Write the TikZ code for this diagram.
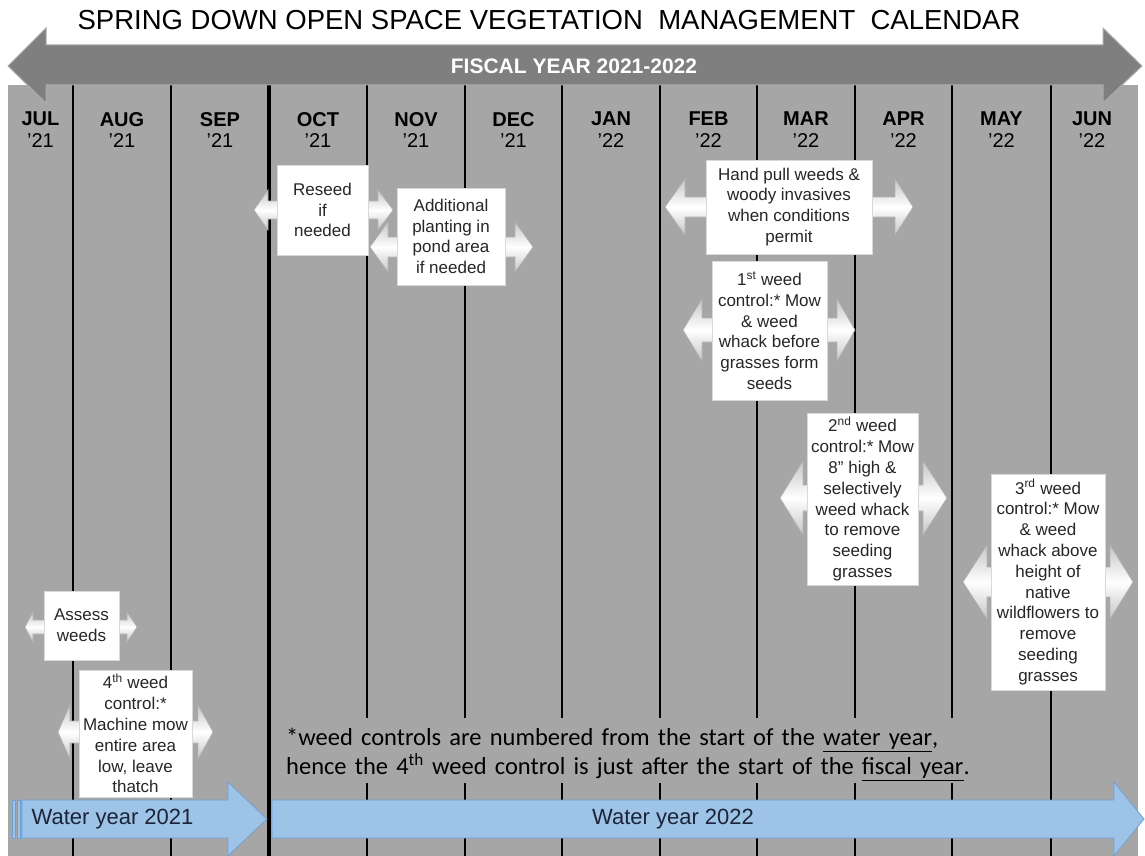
\documentclass[tikz,border=0pt]{standalone}
\usepackage{fontspec}
\setmainfont{Liberation Sans}
\newfontfamily\calibri{Carlito}

\definecolor{panelgray}{HTML}{A6A6A6}
\definecolor{fiscalgray}{HTML}{7F7F7F}
\definecolor{textgray}{HTML}{262626}
\definecolor{waterblue}{HTML}{9DC3E6}
\definecolor{waterline}{HTML}{6F9FD8}
\definecolor{watertext}{HTML}{1C2439}

\begin{document}
\begin{tikzpicture}[
        x=1pt, y=-1pt,
        every node/.style={text=textgray},
        month/.style={anchor=north, inner sep=0pt, align=center, text=black, font=\fontsize{20}{21.5}\selectfont},
        gridline/.style={black, line width=1.1pt},
        task/.style={draw=gray!30, fill=white, inner sep=1pt, align=center, font=\fontsize{17}{20.8}\selectfont},
        callout/.style={draw=gray!60, line width=0.6pt, top color=gray!45, bottom color=gray!45, middle color=white},
        water/.style={fill=waterblue, draw=waterline, line width=0.8pt},
        watertext/.style={text=watertext, font=\fontsize{22}{24}\selectfont},
        note/.style={text width=745pt, inner xsep=14pt, inner ysep=0pt, align=left, text=black, font=\calibri\fontsize{24.5}{29}\selectfont}
    ]

        % ==================================================
        % FUNDO
        % ==================================================

        \useasboundingbox[fill=white] (0,0) rectangle (1145,856);
        \fill[panelgray] (8,85) rectangle (1138,856);

        \node[text=black, font=\fontsize{27.5}{30}\selectfont] (title) at (549,20)
            {SPRING DOWN OPEN SPACE VEGETATION\ \ MANAGEMENT\ \ CALENDAR};

        % Linhas dos meses
        \foreach \x in {73,171,367,465,562,660,757,855,952,1051}
            \draw[gridline] (\x,85) -- (\x,856);
        \draw[line width=4.5pt] (269,85) -- (269,856);

        % Seta do ano fiscal
        \draw[fill=fiscalgray, draw=gray!65, line width=1pt]
            (8,66) -- (46,28) -- (46,45) -- (1103,45) -- (1103,28) -- (1142,66)
            -- (1103,103) -- (1103,85) -- (46,85) -- (46,103) -- cycle;
        \node[text=white, font=\bfseries\fontsize{21}{24}\selectfont] (fiscal) at (574,66) {FISCAL YEAR 2021-2022};

        % Meses
        \foreach \m/\a/\x [count=\i] in {JUL/21/40.5, AUG/21/122, SEP/21/220, OCT/21/318,
                NOV/21/416, DEC/21/513.5, JAN/22/611, FEB/22/708.5, MAR/22/806,
                APR/22/903.5, MAY/22/1001.5, JUN/22/1092}
            \node[month] (m\i) at (\x,112) {\textbf{\m}\\’\a};

        % ==================================================
        % TAREFAS
        % ==================================================

        % Setas duplas
        \foreach \lt/\lb/\rb/\rt/\c/\h/\s in {254/268/378/393/210/20/9, 370/388/515/533/247/25/10,
                665/685/895/913/207/28/10, 683/702/837/855/330/31/12, 780/803/923/947/498/37/13,
                963/987/1110/1133/582/37/15, 25/33/127/137/627/15/7, 58/70/198/213/732/27/11}
            \draw[callout] (\lt,\c) -- (\lb,\c-\h) -- (\lb,\c-\s) -- (\rb,\c-\s) -- (\rb,\c-\h)
                -- (\rt,\c) -- (\rb,\c+\h) -- (\rb,\c+\s) -- (\lb,\c+\s) -- (\lb,\c+\h) -- cycle;

        % Caixas
        \node[task, minimum width=91pt, minimum height=90pt] (reseed) at (322.5,210)
            {Reseed\\if\\needed};
        \node[task, minimum width=108pt, minimum height=97pt] (planting) at (451,236.5)
            {Additional\\planting in\\pond area\\if needed};
        \node[task, minimum width=166pt, minimum height=94pt] (handpull) at (789,207)
            {Hand pull weeds \&\\woody invasives\\when conditions\\permit};
        \node[task, minimum width=115pt, minimum height=139pt] (control1) at (769.5,330.5)
            {1\textsuperscript{st} weed\\control:* Mow\\\& weed\\whack before\\grasses form\\seeds};
        \node[task, minimum width=111pt, minimum height=172pt] (control2) at (862.5,499)
            {2\textsuperscript{nd} weed\\control:* Mow\\8" high \&\\selectively\\weed whack\\to remove\\seeding\\grasses};
        \node[task, minimum width=114pt, minimum height=216pt] (control3) at (1048,582)
            {3\textsuperscript{rd} weed\\control:* Mow\\\& weed\\whack above\\height of\\native\\wildflowers to\\remove\\seeding\\grasses};
        \node[task, minimum width=75pt, minimum height=69pt] (assess) at (81.5,625.5)
            {Assess\\weeds};
        \node[task, minimum width=113pt, minimum height=127pt] (control4) at (135.5,733.5)
            {4\textsuperscript{th} weed\\control:*\\Machine mow\\entire area\\low, leave\\thatch};

        % Nota
        \fill[panelgray] (272,718) rectangle (1045,783);
        \node[note, anchor=west] (note) at (272,754.5)
            {*weed controls are numbered from the start of the \underline{water year},\\
             hence the 4\textsuperscript{th} weed control is just after the start of the \underline{fiscal year}.};

        % ==================================================
        % ANOS HIDROLOGICOS
        % ==================================================

        \draw[water] (12,800) rectangle (15,838);
        \draw[water] (17,800) rectangle (20,838);
        \draw[water] (22,800) -- (228,800) -- (228,782) -- (267,819) -- (228,856) -- (228,838) -- (22,838) -- cycle;
        \node[watertext] (water21) at (112.5,819) {Water year 2021};

        \draw[water] (272,800) -- (1114,800) -- (1114,782) -- (1144,819) -- (1114,856) -- (1114,838) -- (272,838) -- cycle;
        \node[watertext] (water22) at (673,819) {Water year 2022};

    \end{tikzpicture}
\end{document}
